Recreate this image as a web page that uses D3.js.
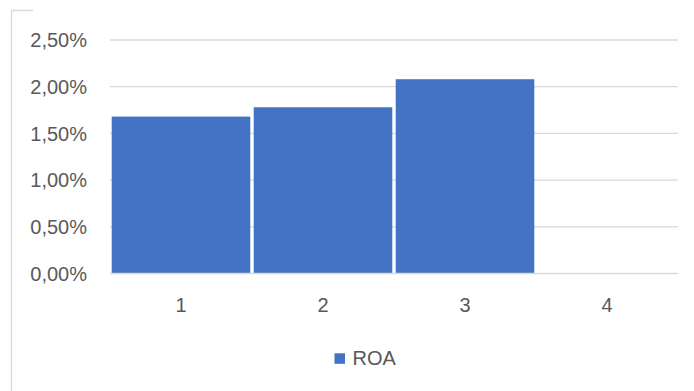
<!DOCTYPE html>
<html><head><meta charset="utf-8">
<script src="https://cdn.jsdelivr.net/npm/d3@7"></script>
<style>body{margin:0;background:#fff}svg{display:block}</style>
</head><body>
<script>
const categories = ["1","2","3","4"];
const roaValues = [0.0168, 0.0178, 0.0208, 0];
const yTicks = [0, 0.005, 0.01, 0.015, 0.02, 0.025];
const seriesName = "ROA";

const W = 694, H = 391;
const svg = d3.select("body").append("svg").attr("width", W).attr("height", H);
const font = "'Liberation Sans', Arial, sans-serif";
const textColor = "#595959";
const barColor = "#4472C4";
const gridColor = "#d9d9d9";

// partial frame
svg.append("path").attr("d", "M11.5,391 V10.5 H33")
  .attr("fill","none").attr("stroke", gridColor).attr("stroke-width", 1.3);

const x = d3.scaleBand().domain(categories).range([110, 678]).paddingInner(0.024).paddingOuter(0.012);
const y = d3.scaleLinear().domain([0, 0.025]).range([273.5, 40]);
const fmt = v => d3.format(".2f")(v*100).replace(".", ",") + "%";

svg.append("g").selectAll("line").data(yTicks.filter(d=>d>0)).join("line")
  .attr("x1", 110).attr("x2", 678)
  .attr("y1", d=>y(d)).attr("y2", d=>y(d))
  .attr("stroke", gridColor).attr("stroke-width", 1.3);

svg.append("g").selectAll("rect").data(categories).join("rect")
  .attr("x", d=>x(d)).attr("width", x.bandwidth())
  .attr("y", (d,i)=>y(roaValues[i])).attr("height", (d,i)=>y(0)-y(roaValues[i]))
  .attr("fill", barColor);

svg.append("line").attr("x1",110).attr("x2",678).attr("y1",y(0)).attr("y2",y(0))
  .attr("stroke", gridColor).attr("stroke-width", 1.3);

svg.append("g").selectAll("text").data(yTicks).join("text")
  .attr("x", 87).attr("y", d=>y(d)).attr("dy","0.36em")
  .attr("text-anchor","end").attr("font-family", font).attr("font-size", 20)
  .attr("fill", textColor).text(fmt);

svg.append("g").selectAll("text").data(categories).join("text")
  .attr("x", d=>x(d)+x.bandwidth()/2).attr("y", 312)
  .attr("text-anchor","middle").attr("font-family", font).attr("font-size", 20)
  .attr("fill", textColor).text(d=>d);

const lg = svg.append("g");
lg.append("rect").attr("x",334.5).attr("y",353.3).attr("width",10.5).attr("height",10.5).attr("fill",barColor);
lg.append("text").attr("x",352.5).attr("y",365).attr("font-family",font).attr("font-size",20)
  .attr("fill",textColor).text(seriesName);
</script>
</body></html>
